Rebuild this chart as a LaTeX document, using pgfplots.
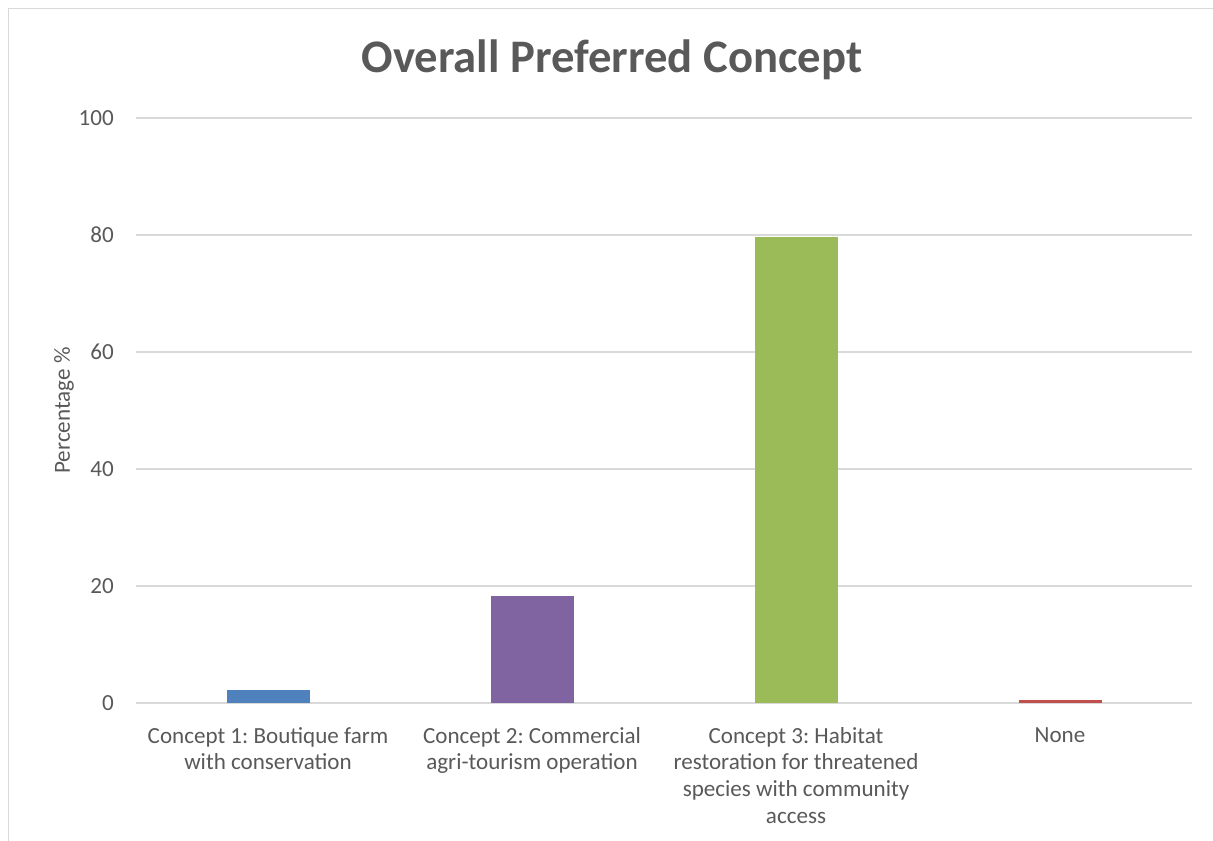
\documentclass[border=0pt]{standalone}
\usepackage{pgfplots}
\pgfplotsset{compat=1.18}
\usepackage{fontspec}
\setmainfont{Carlito}
\frenchspacing
\definecolor{txt}{HTML}{595959}
\definecolor{gridc}{HTML}{D9D9D9}
\definecolor{c1}{HTML}{4F81BD}
\definecolor{c2}{HTML}{8064A2}
\definecolor{c3}{HTML}{9BBB59}
\definecolor{c4}{HTML}{C0504D}
\begin{document}
\begin{tikzpicture}
\path[use as bounding box] (0pt,0pt) rectangle (909.75pt,630.75pt);
\draw[color=gridc, line width=0.75pt] (6pt,0pt) -- (6pt,624pt) -- (909.75pt,624pt);
\node[font=\fontsize{35}{42}\selectfont\bfseries, text=txt, anchor=base] at (459pt,576pt) {Overall Preferred Concept};
\begin{axis}[
  at={(102pt,103.5pt)}, anchor=south west,
  scale only axis, width=792pt, height=438.75pt,
  xmin=-0.5, xmax=3.5, ymin=0, ymax=100,
  ytick={0,20,40,60,80,100},
  xtick={0,1,2,3},
  xticklabels={{Concept 1: Boutique farm\\with conservation},{Concept 2: Commercial\\agri-tourism operation},{Concept 3: Habitat\\restoration for threatened\\species with community\\access},{None}},
  axis line style={draw=none},
  major tick length=0pt,
  tick style={draw=none},
  ymajorgrids,
  grid style={color=gridc, line width=0.9pt},
  /pgf/number format/assume math mode=true,
  yticklabel style={font=\fontsize{17.3}{20}\selectfont, text=txt, anchor=east, inner sep=0pt, xshift=-16.5pt},
  xticklabel style={font=\fontsize{17.3}{20}\selectfont, text=txt, align=center, anchor=north, inner sep=0pt, yshift=-18pt},
  ylabel={Percentage \%},
  ylabel style={at={(axis description cs:-0.0682,0.5)}, anchor=center, font=\fontsize{17.3}{20}\selectfont, text=txt},
  ybar, bar width=62.25pt, bar shift=0pt,
]
\addplot[fill=c1, draw=none] coordinates {(0,2.2)};
\addplot[fill=c2, draw=none] coordinates {(1,18.3)};
\addplot[fill=c3, draw=none] coordinates {(2,79.7)};
\addplot[fill=c4, draw=none] coordinates {(3,0.5)};
\end{axis}
\end{tikzpicture}
\end{document}
